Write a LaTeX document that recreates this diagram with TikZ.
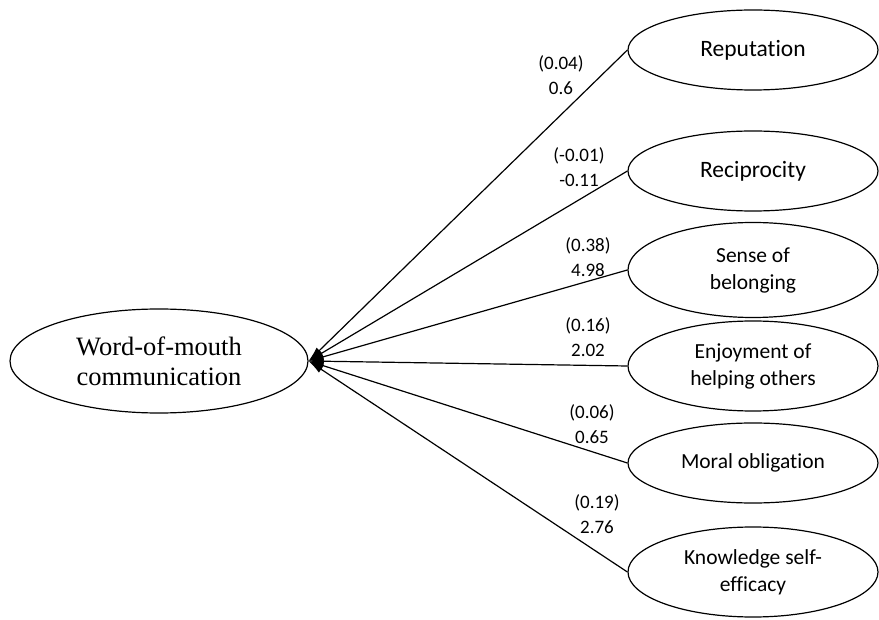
\documentclass[tikz,border=0pt]{standalone}
\usepackage{fontspec}
\setmainfont{Liberation Serif}
\newfontfamily\calib[Ligatures=NoCommon]{Carlito}
\usetikzlibrary{shapes.geometric,arrows.meta}
\begin{document}
\begin{tikzpicture}[x=1pt,y=-1pt,
  oval/.style={draw,ellipse,line width=1.2pt,inner sep=0pt,minimum width=250pt,align=center,font=\calib\fontsize{21.5}{27}\selectfont},
  link/.style={line width=1.2pt,-{Latex[length=15pt,width=8pt]}},
  coef/.style={align=center,font=\calib\fontsize{19}{25}\selectfont,inner sep=0pt}]
\useasboundingbox (0,0) rectangle (879,620);
\node[draw,ellipse,line width=1.2pt,inner sep=0pt,minimum width=298pt,minimum height=104pt,align=center,
  font=\fontsize{26.5}{30}\selectfont] (wom) at (159,361) {Word-of-mouth\\communication};
\node[oval,minimum height=80pt,font=\calib\fontsize{23.5}{27}\selectfont] (rep) at (753,50) {Reputation};
\node[oval,minimum height=80pt,font=\calib\fontsize{23.5}{27}\selectfont] (rec) at (753,171) {Reciprocity};
\node[oval,minimum height=95pt] (sob) at (753,270) {Sense of\\belonging};
\node[oval,minimum height=90pt] (enj) at (753,366) {Enjoyment of\\helping others};
\node[oval,minimum height=80pt] (mor) at (753,463) {Moral obligation};
\node[oval,minimum height=90pt] (kse) at (753,572) {Knowledge self-\\efficacy};
\foreach \n in {rep,rec,sob,enj,mor,kse}
  \draw[link] (\n.west) -- (wom.east);
\node[coef] (c1) at (561,75) {(0.04)\\0.6};
\node[coef] (c2) at (579,167) {(-0.01)\\-0.11};
\node[coef] (c3) at (588,257) {(0.38)\\4.98};
\node[coef] (c4) at (588,337) {(0.16)\\2.02};
\node[coef] (c5) at (592,424) {(0.06)\\0.65};
\node[coef] (c6) at (597,514) {(0.19)\\2.76};
\end{tikzpicture}
\end{document}
